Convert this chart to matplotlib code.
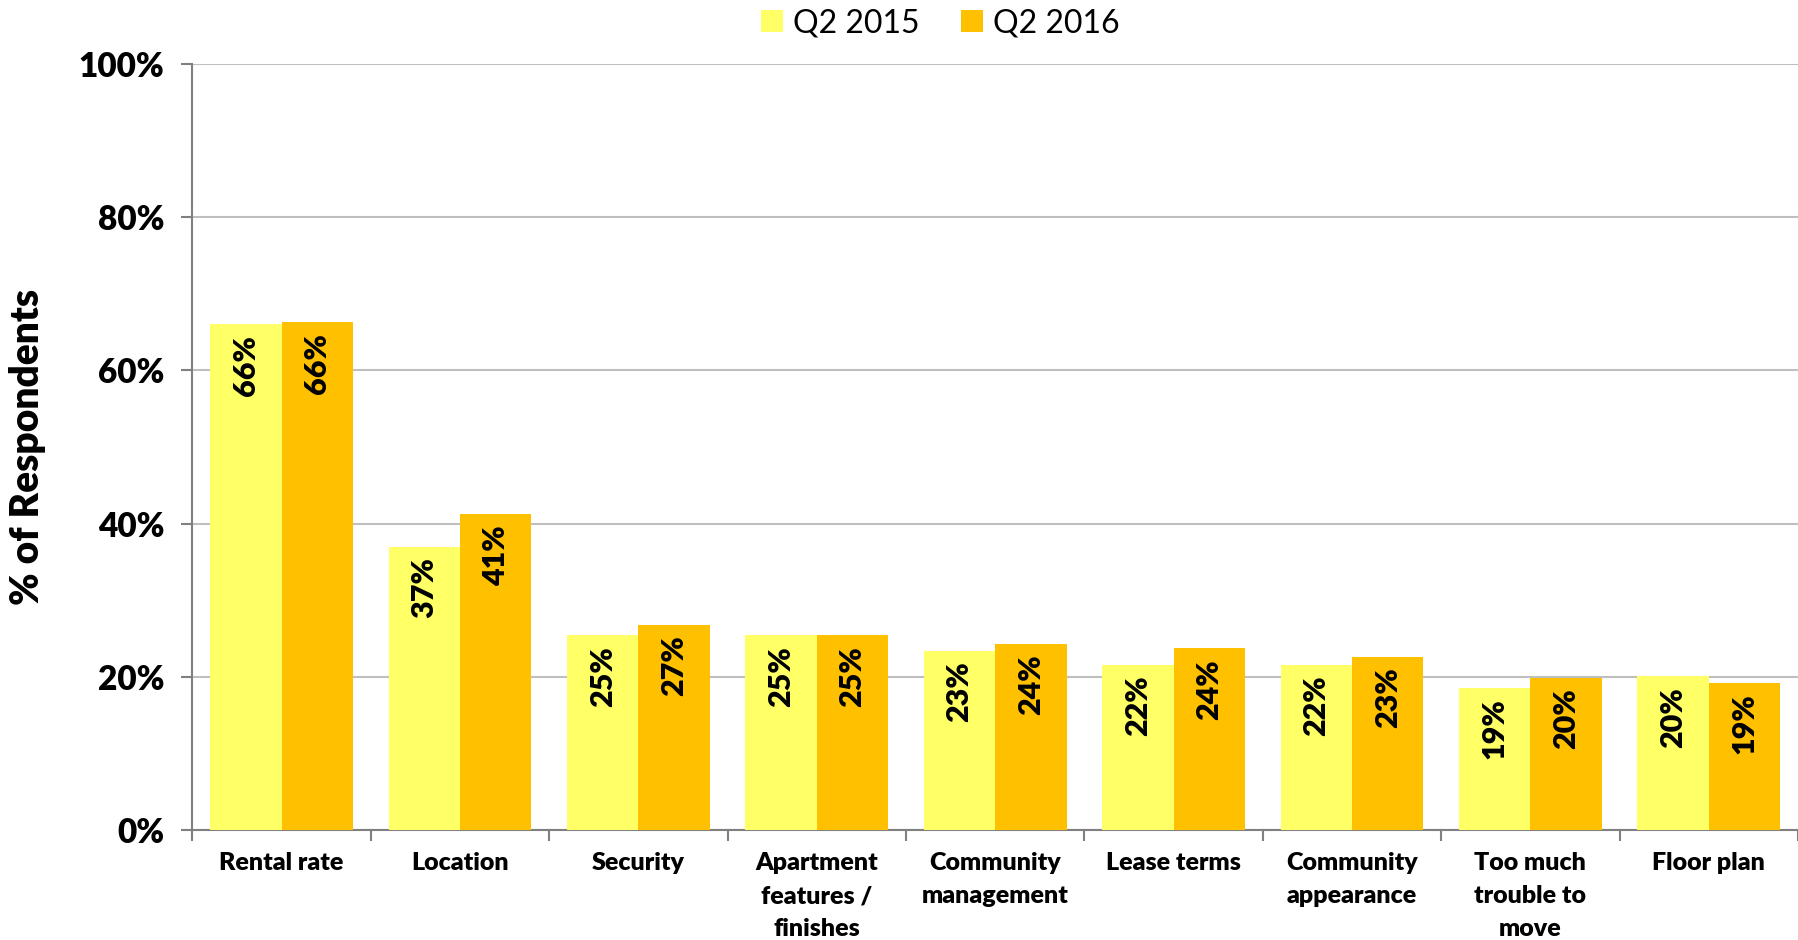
import matplotlib.pyplot as plt
import numpy as np
from matplotlib.ticker import FuncFormatter, FixedLocator

plt.rcParams['font.family'] = ['Lato', 'DejaVu Sans']

categories = ['Rental rate', 'Location', 'Security', 'Apartment\nfeatures /\nfinishes',
              'Community\nmanagement', 'Lease terms', 'Community\nappearance',
              'Too much\ntrouble to\nmove', 'Floor plan']
q2_2015 = [66.0, 37.0, 25.4, 25.4, 23.4, 21.6, 21.6, 18.6, 20.1]
q2_2016 = [66.3, 41.2, 26.8, 25.4, 24.3, 23.7, 22.6, 19.9, 19.2]
series_names = ['Q2 2015', 'Q2 2016']
colors = ['#FFFF66', '#FFC000']

fig = plt.figure(figsize=(17.98, 9.4), dpi=100)
ax = fig.add_axes([0.107, 0.117, 0.893, 0.815])

x = np.arange(len(categories))
w = 0.4
b1 = ax.bar(x - w / 2, q2_2015, w, color=colors[0], label=series_names[0], zorder=3)
b2 = ax.bar(x + w / 2, q2_2016, w, color=colors[1], label=series_names[1], zorder=3)

for bars, vals in [(b1, q2_2015), (b2, q2_2016)]:
    for r, v in zip(bars, vals):
        ax.text(r.get_x() + r.get_width() / 2, v - 1.4, '%d%%' % round(v),
                rotation=90, ha='center', va='top', fontsize=22,
                fontweight='heavy', zorder=4)

ax.set_xlim(-0.5, len(categories) - 0.5)
ax.set_ylim(0, 100)
ax.set_yticks(np.arange(0, 101, 20))
ax.yaxis.set_major_formatter(FuncFormatter(lambda v, p: '%d%%' % v))
ax.grid(axis='y', color='#BFBFBF', linewidth=1.5, zorder=0)

ax.xaxis.set_major_locator(FixedLocator(np.arange(-0.5, len(categories), 1)))
ax.set_xticklabels([])
ax.xaxis.set_minor_locator(FixedLocator(x))
ax.set_xticklabels(categories, minor=True, fontsize=18, fontweight='heavy',
                   linespacing=1.6)
ax.tick_params(axis='x', which='minor', length=0, pad=16)
ax.tick_params(axis='x', which='major', length=8, color='#808080', width=1.5)
ax.tick_params(axis='y', length=8, color='#808080', width=1.5, labelsize=24, pad=12)
for t in ax.get_yticklabels():
    t.set_fontweight('heavy')

for s in ['top', 'right']:
    ax.spines[s].set_visible(False)
for s in ['left', 'bottom']:
    ax.spines[s].set_color('#808080')
    ax.spines[s].set_linewidth(1.5)

ax.set_ylabel('% of Respondents', fontsize=28, fontweight='heavy', labelpad=24)

fig.legend(loc='upper center', bbox_to_anchor=(0.523, 1.022), ncol=2, frameon=False,
           fontsize=23, handlelength=0.7, handleheight=0.7, handletextpad=0.3,
           columnspacing=1.3)

fig.savefig('out.png', dpi=100)
